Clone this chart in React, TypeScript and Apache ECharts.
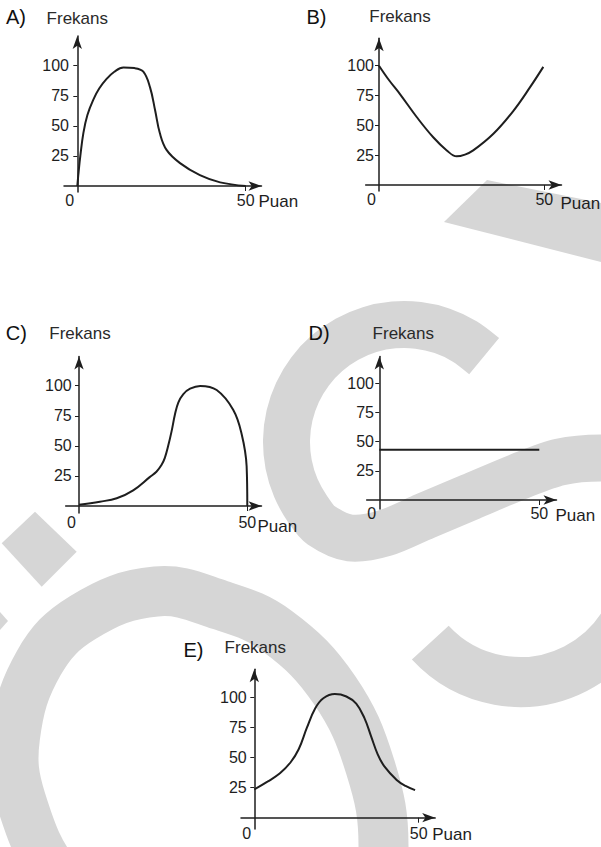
import React, { useEffect, useRef } from 'react';
import * as echarts from 'echarts';

// ---------- data ----------
const panelLetters = ['A)', 'B)', 'C)', 'D)', 'E)'];
const xAxisName = 'Puan';
const yAxisName = 'Frekans';
const xLabelValues = [0, 50];
const xTickValues = [50];
const yTickValues = [25, 50, 75, 100];

const seriesA: number[][] = [[0, 0], [0.4, 12], [0.9, 25], [1.8, 44], [3, 59], [4.8, 72], [6.5, 81], [8.7, 89], [11, 95], [13.7, 98.5], [17, 98], [19.6, 95], [21.6, 82], [23.1, 63], [24.5, 44], [26.5, 30], [30.5, 19], [36.4, 9], [42.4, 3], [50, 0]];
const seriesB: number[][] = [[0, 100], [3, 88], [6.4, 76], [11.4, 57], [16.4, 40], [20.5, 29], [23.5, 24], [26, 25.5], [28.5, 29], [34.6, 43], [40.6, 62], [45.7, 82], [49.7, 99]];
const seriesC: number[][] = [[0, 1], [6.2, 3.6], [11.2, 6.4], [16.1, 13], [21, 24], [23, 28.5], [24.5, 34], [25.5, 40], [26.5, 50], [27.5, 62], [28.5, 76], [29.5, 86], [31, 93], [33, 97.5], [36, 99.8], [40.9, 96.4], [45.8, 80], [48.3, 60], [49.8, 33], [50, 0]];
const seriesD: number[][] = [[0, 43], [50, 43]];
const seriesE: number[][] = [[0, 23.5], [4, 30], [7.8, 37], [11, 46], [13.5, 57], [16, 75], [18.5, 91], [21, 99.5], [24.5, 103], [28, 101], [31, 95], [33.5, 83], [35.5, 68], [37.5, 53], [39.5, 43], [43.3, 31.5], [46, 26.5], [48.9, 23]];
const allSeries = [seriesA, seriesB, seriesC, seriesD, seriesE];

// ---------- layout (pixels) ----------
type Panel = {
  ox: number; oy: number; x50: number; y100: number;
  xStart: number; xTip: number; yBottom: number; yTip: number;
  letterX: number; letterY: number;
  nameGapY: number; nameShiftY: number; nameGapX: number; nameDyX: number;
  xLabelMargin: number; yLabelMargin: number;
};
const panels: Panel[] = [
  { ox: 77.3, oy: 186, x50: 245.7, y100: 65.7, xStart: 64, xTip: 268, yBottom: 192, yTip: 29.5, letterX: 6, letterY: 7, nameGapY: 9, nameShiftY: 0, nameGapX: -3, nameDyX: 15.7, xLabelMargin: 0.5, yLabelMargin: -5 },
  { ox: 379, oy: 185, x50: 544.3, y100: 65.7, xStart: 365.7, xTip: 568, yBottom: 191, yTip: 31.7, letterX: 306.5, letterY: 7, nameGapY: 13.5, nameShiftY: 21, nameGapX: -1, nameDyX: 18, xLabelMargin: 0, yLabelMargin: -8.3 },
  { ox: 79, oy: 506, x50: 247.3, y100: 385.7, xStart: 65.7, xTip: 268, yBottom: 513, yTip: 350, letterX: 5.7, letterY: 322.5, nameGapY: 14.5, nameShiftY: 1, nameGapX: -4, nameDyX: 20.7, xLabelMargin: 1, yLabelMargin: -6 },
  { ox: 379.3, oy: 500, x50: 539.3, y100: 383.3, xStart: 366.7, xTip: 563, yBottom: 509, yTip: 350, letterX: 308.5, letterY: 322.5, nameGapY: 14.5, nameShiftY: 24, nameGapX: -1, nameDyX: 15, xLabelMargin: -3.2, yLabelMargin: -7.3 },
  { ox: 254.3, oy: 817.7, x50: 418.7, y100: 697.7, xStart: 241, xTip: 441.7, yBottom: 829, yTip: 662.7, letterX: 183.5, letterY: 640, nameGapY: 13.7, nameShiftY: 1, nameGapX: -3, nameDyX: 17.3, xLabelMargin: -3.2, yLabelMargin: -5.7 },
];

const FONT = '"Liberation Sans", Arial, Helvetica, sans-serif';
const INK = '#1e1e1e';
const WM = '#d6d6d6';
const ARROW_W = 7;
const ARROW_L = 13;

function buildOption() {
  const grids: any[] = [];
  const xAxes: any[] = [];
  const yAxes: any[] = [];
  const series: any[] = [];
  const titles: any[] = [];

  panels.forEach((p, i) => {
    const sx = (p.x50 - p.ox) / 50;
    const sy = (p.oy - p.y100) / 100;
    const xEnd = p.xTip - ARROW_L / 2;
    const yTop = p.yTip + ARROW_L / 2;
    grids.push({
      left: p.xStart, top: yTop, width: xEnd - p.xStart, height: p.yBottom - yTop,
      containLabel: false, outerBoundsMode: 'none',
    });
    const axisLine = {
      show: true, onZero: true,
      symbol: ['none', 'arrow'], symbolSize: [ARROW_W, ARROW_L],
      lineStyle: { color: INK, width: 1.5 },
    };
    xAxes.push({
      type: 'value', gridIndex: i,
      min: (p.xStart - p.ox) / sx, max: (xEnd - p.ox) / sx,
      splitLine: { show: false },
      axisLine,
      axisTick: { show: true, customValues: xTickValues, length: 5, lineStyle: { color: INK, width: 1 } },
      axisLabel: {
        show: true, customValues: xLabelValues, margin: p.xLabelMargin,
        fontSize: 16, color: INK, fontFamily: FONT,
        formatter: (v: number) => (v === 0 ? '{z|0}' : String(v)),
        rich: { z: { fontSize: 16, color: INK, fontFamily: FONT, padding: [0, 15, 0, 0] } },
      },
      name: xAxisName, nameLocation: 'end', nameGap: p.nameGapX, nameMoveOverlap: false,
      nameTextStyle: {
        fontSize: 17, color: INK, fontFamily: FONT, align: 'left', verticalAlign: 'top',
        lineHeight: 2 * p.nameDyX,
      },
    });
    yAxes.push({
      type: 'value', gridIndex: i,
      min: -(p.yBottom - p.oy) / sy, max: (p.oy - yTop) / sy,
      splitLine: { show: false },
      axisLine,
      axisTick: { show: true, customValues: yTickValues, length: 4, lineStyle: { color: INK, width: 1 } },
      axisLabel: { show: true, customValues: yTickValues, margin: p.yLabelMargin, fontSize: 16, color: INK, fontFamily: FONT },
      name: yAxisName, nameLocation: 'end', nameGap: p.nameGapY, nameMoveOverlap: false,
      nameTextStyle: { fontSize: 17, color: '#2a2a2a', fontFamily: FONT, align: 'center', verticalAlign: 'bottom', padding: [0, 0, 0, 2 * p.nameShiftY] },
    });
    series.push({
      type: 'line', xAxisIndex: i, yAxisIndex: i,
      data: allSeries[i], smooth: i === 3 ? false : 0.4,
      showSymbol: false, symbol: 'none', clip: false,
      lineStyle: { color: INK, width: 2 },
      z: 3,
    });
    titles.push({
      text: panelLetters[i], left: p.letterX, top: p.letterY, padding: 0,
      textStyle: { fontSize: 20, fontWeight: 'normal', color: '#111', fontFamily: FONT },
    });
  });

  // watermark geometry
  const cPts: number[][] = [];
  for (let deg = -47; deg >= -225; deg -= 12) {
    const a = (deg * Math.PI) / 180;
    cPts.push([404 + 117.5 * Math.cos(a), 442 + 117.5 * Math.sin(a)]);
  }
  const lastA = (-225 * Math.PI) / 180;
  cPts.push([404 + 117.5 * Math.cos(lastA), 442 + 117.5 * Math.sin(lastA)]);
  const wavePts = [[350, 538], [385, 533], [425, 516], [470, 497], [520, 476], [560, 462], [601, 458], [640, 462]];
  const ringPts = [[15, 737], [38.8, 663], [82.9, 617.5], [156, 591.5], [220, 605], [277, 631], [334.5, 690], [370.6, 768], [383.5, 847], [370, 915], [300, 965], [150, 960], [60, 880], [21, 800]];

  const wmStyle = (lw: number) => ({ fill: null, stroke: WM, lineWidth: lw, lineCap: 'butt', lineJoin: 'round' });
  const graphic = {
    elements: [
      { type: 'polygon', z: -10, silent: true, shape: { points: [[487, 180], [601, 203], [601, 262], [444, 222]] }, style: { fill: WM } },
      { type: 'polygon', z: -10, silent: true, shape: { points: [[35, 511.7], [76.7, 551.7], [41.7, 586.7], [1.7, 543.3]] }, style: { fill: WM } },
      { type: 'polygon', z: -10, silent: true, shape: { points: [[0, 612], [8, 621], [0, 630]] }, style: { fill: WM } },
      { type: 'polyline', z: -10, silent: true, shape: { points: cPts.concat(wavePts), smooth: 0.3 }, style: wmStyle(47) },
      { type: 'arc', z: -10, silent: true, shape: { cx: 520, cy: 560, r: 122, startAngle: -0.2, endAngle: 2.397, clockwise: true }, style: wmStyle(50) },
      { type: 'polygon', z: -10, silent: true, shape: { points: ringPts, smooth: 0.4 }, style: wmStyle(50) },
    ],
  };

  return {
    animation: false,
    backgroundColor: '#ffffff',
    title: titles,
    grid: grids,
    xAxis: xAxes,
    yAxis: yAxes,
    series,
    graphic,
  };
}

export default function App() {
  const ref = useRef<HTMLDivElement>(null);
  useEffect(() => {
    if (!ref.current) return;
    const chart = echarts.init(ref.current, null, { renderer: 'svg' });
    chart.setOption(buildOption() as any);
    return () => chart.dispose();
  }, []);
  return (
    <div
      ref={ref}
      style={{ position: 'fixed', left: 0, top: 0, width: 601, height: 847, background: '#fff' }}
    />
  );
}
